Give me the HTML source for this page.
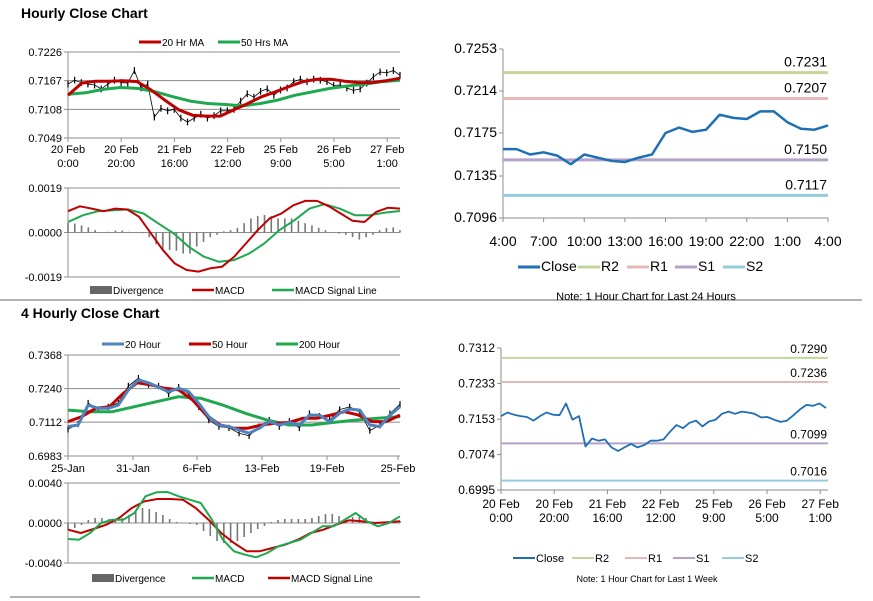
<!DOCTYPE html>
<html><head><meta charset="utf-8"><style>
html,body{margin:0;padding:0;background:#fff;}
body{width:873px;height:601px;overflow:hidden;position:relative;font-family:"Liberation Sans",Arial,sans-serif;}
svg{position:absolute;left:0;top:0;}
text{font-family:"Liberation Sans",Arial,sans-serif;fill:#000;}
</style></head><body>
<svg id="c" width="873" height="601"></svg>
<script>
// ---- Data: hourly week close (20 Feb 0:00 -> 27 Feb) ----
const weekClose=[0.7160,0.7168,0.7163,0.7160,0.7158,0.7150,0.7160,0.7168,0.7163,0.7162,0.7188,0.7152,0.7160,0.7092,0.7110,0.7105,0.7108,0.7090,0.7082,0.7090,0.7098,0.7090,0.7095,0.7105,0.7105,0.7108,0.7125,0.7140,0.7133,0.7145,0.7150,0.7137,0.7148,0.7152,0.7165,0.7170,0.7165,0.7170,0.7168,0.7165,0.7157,0.7158,0.7152,0.7147,0.7150,0.7162,0.7175,0.7185,0.7183,0.7188,0.7178];
const ma20h=[0.7137,0.7162,0.7166,0.7166,0.7167,0.7165,0.7148,0.7127,0.7107,0.7096,0.7094,0.7094,0.7107,0.7120,0.7134,0.7144,0.7155,0.7165,0.7170,0.7170,0.7166,0.7163,0.7163,0.7167,0.7172];
const ma50h=[0.7139,0.7142,0.7149,0.7153,0.7151,0.7144,0.7134,0.7125,0.7120,0.7118,0.7115,0.7120,0.7127,0.7137,0.7144,0.7151,0.7156,0.7160,0.7165,0.7168];
const macd1=[0.00091,0.00112,0.00102,0.00091,0.00102,0.00098,0.00067,-0.00004,-0.00075,-0.00132,-0.0016,-0.00167,-0.00153,-0.00146,-0.00104,-0.00047,0.0001,0.0006,0.00081,0.00116,0.00135,0.00135,0.00112,0.00081,0.0005,0.00045,0.00088,0.00106,0.00102];
const signal1=[0.00045,0.00074,0.00091,0.00095,0.00098,0.00081,0.00038,-0.00004,-0.00061,-0.00103,-0.00125,-0.00118,-0.0009,-0.00047,0.0001,0.00052,0.00102,0.00121,0.00102,0.00074,0.00074,0.00085,0.00092];
const div1=[0.0004,0.00038,0.0003,0.00022,0.0001,0.0,0.00003,0.00008,0.00008,0.00003,0.00001,-0.00003,-0.0002,-0.0005,-0.0007,-0.00075,-0.00078,-0.0009,-0.0009,-0.0006,-0.0004,-0.0002,-0.0001,0.00005,0.0001,0.0002,0.0004,0.0006,0.0007,0.00075,0.0007,0.0006,0.0006,0.0006,0.0005,0.0004,0.0003,0.0002,0.0001,0.0,-0.00005,-0.0001,-0.0002,-0.0003,-0.0002,-0.0001,0.0001,0.0002,0.00022,0.0001];
// ---- 4 hourly ----
const close4=[0.7085,0.7105,0.7185,0.7160,0.7170,0.7185,0.7250,0.7280,0.7255,0.7250,0.7220,0.7245,0.7220,0.7170,0.7120,0.7095,0.7090,0.7070,0.7060,0.7095,0.7120,0.7095,0.7115,0.7090,0.7145,0.7135,0.7120,0.7160,0.7170,0.7150,0.7080,0.7100,0.7145,0.7180];
const ma20=[0.7095,0.7101,0.7177,0.7165,0.7165,0.7177,0.7235,0.7273,0.7262,0.7245,0.7228,0.7241,0.7228,0.7184,0.7133,0.7101,0.7095,0.7082,0.7070,0.7089,0.7114,0.7101,0.7111,0.7101,0.7139,0.7139,0.7114,0.7146,0.7162,0.7158,0.7101,0.7095,0.7139,0.7171];
const ma50=[0.7114,0.7133,0.7165,0.7171,0.7222,0.7262,0.7254,0.7241,0.7235,0.7197,0.7139,0.7101,0.7089,0.7089,0.7101,0.7108,0.7111,0.7127,0.7127,0.7139,0.7152,0.7139,0.7114,0.7114,0.7139];
const ma200=[0.7158,0.7152,0.7152,0.7171,0.7190,0.7209,0.7203,0.7177,0.7146,0.7120,0.7101,0.7101,0.7111,0.7120,0.7127,0.7133];
const macd4=[-0.0016,-0.00167,-0.001,0,0.00033,0.00033,0.001,0.00267,0.00307,0.0031,0.00267,0.00233,0.002,0.00033,-0.00167,-0.00283,-0.00317,-0.00343,-0.003,-0.00233,-0.002,-0.00167,-0.001,-0.00033,-0.00033,0.00033,0.001,0.00017,-0.00033,0,0.00067];
const signal4=[-0.00067,-0.001,-0.0006,-0.00017,0.0005,0.0015,0.00217,0.0024,0.0024,0.00233,0.0015,0.00033,-0.001,-0.002,-0.00283,-0.00283,-0.0025,-0.00217,-0.00167,-0.001,-0.00067,-0.00017,0.00027,0.00017,0,0.00007,0.00017];
const div4=[-0.0007,-0.0005,-0.0002,0.0003,0.0005,0.0005,0.0004,0.0003,0.0005,0.0008,0.0012,0.0015,0.0014,0.0011,0.0008,0.0004,0.0001,0.0,-0.0001,-0.0002,-0.0008,-0.0013,-0.0018,-0.002,-0.002,-0.0018,-0.0014,-0.001,-0.0006,-0.0003,0.0001,0.0003,0.0004,0.0004,0.0004,0.0004,0.0005,0.0007,0.0009,0.0009,0.0007,0.0005,0.0006,0.0007,0.0005,0.0001,0.0,-0.0001,0.0001,0.0002];
// ---- 24h ----
const dayClose=[0.7160,0.7160,0.7155,0.7157,0.7154,0.7146,0.7155,0.7152,0.7149,0.7148,0.7152,0.7155,0.7175,0.7180,0.7176,0.7178,0.7192,0.7189,0.7188,0.7195,0.7195,0.7185,0.7179,0.7178,0.7182];
const dayLevels=[0.7231,0.7207,0.7150,0.7117];
const weekLevels=[0.7290,0.7236,0.7099,0.7016];
const levelNames=["R2","R1","S1","S2"];
const levelColors=["#c3d69b","#e6b9b8","#b3a2c7","#93cddd"];
const hourTicks=["20 Feb|0:00","20 Feb|20:00","21 Feb|16:00","22 Feb|12:00","25 Feb|9:00","26 Feb|5:00","27 Feb|1:00"];
const dayTicks=["4:00","7:00","10:00","13:00","16:00","19:00","22:00","1:00","4:00"];
const fourTicks=["25-Jan","31-Jan","6-Feb","13-Feb","19-Feb","25-Feb"];

const S=document.getElementById('c');
const NS='http://www.w3.org/2000/svg';
function mk(t,a,p){const e=document.createElementNS(NS,t);for(const k in a)e.setAttribute(k,a[k]);(p||S).appendChild(e);return e;}
function txt(x,y,s,size,anchor,w){const e=mk('text',{x:x,y:y,'font-size':size,'text-anchor':anchor||'start','font-weight':w||'normal'});e.textContent=s;return e;}
function lin(x1,y1,x2,y2,c,w){return mk('line',{x1:x1,y1:y1,x2:x2,y2:y2,stroke:c,'stroke-width':w||1});}
function sc(d0,d1,r0,r1){return v=>r0+(v-d0)/(d1-d0)*(r1-r0);}
function poly(arr,X,Y,c,w){const n=arr.length;const pts=arr.map((v,i)=>X(i/(n-1)).toFixed(1)+','+Y(v).toFixed(1)).join(' ');return mk('polyline',{points:pts,fill:'none',stroke:c,'stroke-width':w,'stroke-linejoin':'round'});}
function yAxis(ticks,Y,x0,x1,grid,size,fmt){ticks.forEach(t=>{const y=Y(t);if(grid){const g=lin(x0,y,x1,y,'#8c8c8c',1);}lin(x0-4,y,x0,y,'#8c8c8c');const l=txt(x0-6,y+4,fmt(t),size,'end');});}
function legend(items,y,size){items.forEach(it=>{const r=lin(it[0],y,it[0]+22,y,it[2],it[3]||3);const t=txt(it[0]+23,y+4,it[1],size);});}

// titles & separators
let e=txt(21,18,'Hourly Close Chart',14,'start','bold');
e=txt(21,318,'4 Hourly Close Chart',14,'start','bold');
e=lin(0,300,862,300,'#999',1.5);
e=lin(10,597,420,597,'#999',1.5);

// ---- Panel 1: hourly price ----
(function(){
 const x0=68,x1=400,X=sc(0,1,x0,x1),Y=sc(0.7049,0.7226,138,52);
 yAxis([0.7226,0.7167,0.7108,0.7049],Y,x0,x1,true,11,v=>v.toFixed(4));
 lin(x0,52,x0,138,'#8c8c8c');
 hourTicks.forEach((t,i)=>{const x=x0+i*53.2;lin(x,138,x,142,'#8c8c8c');const p=t.split('|');let a=txt(x,153,p[0],11,'middle');a=txt(x,167,p[1],11,'middle');});
 const n=weekClose.length;
 weekClose.forEach((v,i)=>{const x=X(i/(n-1));const b=lin(x,Y(v+0.0007),x,Y(v-0.0007),'#000',1.2);});
 e=poly(weekClose,X,Y,'#000',0.8);
 e=poly(ma50h,X,Y,'#1fa84f',3);
 e=poly(ma20h,X,Y,'#c00000',3);
 legend([[139,'20 Hr MA','#c00000'],[218,'50 Hrs MA','#1fa84f']],42,10);
})();
// ---- Panel 1b: MACD ----
(function(){
 const x0=68,x1=400,X=sc(0,1,x0,x1),Y=sc(-0.0019,0.0019,277,188);
 yAxis([0.0019,0.0,-0.0019],Y,x0,x1,true,11,v=>v.toFixed(4));
 lin(x0,188,x0,277,'#8c8c8c');
 const n=div1.length;
 div1.forEach((v,i)=>{const x=X(i/(n-1));const b=lin(x,Y(0),x,Y(v),'#777',1.6);});
 e=poly(signal1,X,Y,'#1fa84f',2);
 e=poly(macd1,X,Y,'#c00000',2);
 legend([[90,'Divergence','#666',8],[192,'MACD','#c00000',2.5],[272,'MACD Signal Line','#1fa84f',2.5]],290,10);
})();
// ---- Panel 2: 24h levels ----
(function(){
 const x0=503,x1=828,X=sc(0,1,x0,x1),Y=sc(0.7096,0.7253,218,49);
 yAxis([0.7253,0.7214,0.7175,0.7135,0.7096],Y,x0,x1,false,14,v=>v.toFixed(4));
 lin(x0,49,x0,218,'#8c8c8c');lin(x0,218,x1,218,'#8c8c8c');
 dayTicks.forEach((t,i)=>{const x=x0+i*(x1-x0)/8;lin(x,218,x,222,'#8c8c8c');const a=txt(x,246,t,14,'middle');});
 dayLevels.forEach((v,i)=>{const l=lin(x0,Y(v),x1,Y(v),levelColors[i],3);const t=txt(x1-1,Y(v)-6,v.toFixed(4),14,'end');});
 e=poly(dayClose,X,Y,'#1f6fb5',2.5);
 legend([[518,'Close','#1f6fb5'],[578,'R2',levelColors[0]],[627,'R1',levelColors[1]],[675,'S1',levelColors[2]],[723,'S2',levelColors[3]]],267,14);
 e=txt(646,300,'Note: 1 Hour Chart for Last 24 Hours',11,'middle');
})();
// ---- Panel 3: 4 hourly price ----
(function(){
 const x0=68,x1=400,X=sc(0,1,x0,x1),Y=sc(0.6983,0.7368,456,355);
 yAxis([0.7368,0.7240,0.7112,0.6983],Y,x0,x1,true,11,v=>v.toFixed(4));
 lin(x0,355,x0,456,'#8c8c8c');
 const tx=[68,133,197,262,327,398];
 fourTicks.forEach((t,i)=>{lin(tx[i],456,tx[i],460,'#8c8c8c');const a=txt(tx[i],472,t,11,'middle');});
 const n=close4.length;
 close4.forEach((v,i)=>{const x=X(i/(n-1));const b=lin(x,Y(v+0.0012),x,Y(v-0.0012),'#000',1.2);});
 e=poly(close4,X,Y,'#000',0.8);
 e=poly(ma200,X,Y,'#1fa84f',3);
 e=poly(ma50,X,Y,'#c00000',3);
 e=poly(ma20,X,Y,'#4f81bd',3);
 legend([[102,'20 Hour','#4f81bd'],[189,'50 Hour','#c00000'],[276,'200 Hour','#1fa84f']],344,10);
})();
// ---- Panel 3b: MACD 4h ----
(function(){
 const x0=68,x1=400,X=sc(0,1,x0,x1),Y=sc(-0.004,0.004,563,483);
 yAxis([0.004,0.0,-0.004],Y,x0,x1,true,11,v=>v.toFixed(4));
 lin(x0,483,x0,563,'#8c8c8c');
 const n=div4.length;
 div4.forEach((v,i)=>{const x=X(i/(n-1));const b=lin(x,Y(0),x,Y(v),'#777',1.6);});
 e=poly(signal4,X,Y,'#c00000',2);
 e=poly(macd4,X,Y,'#1fa84f',2);
 legend([[92,'Divergence','#666',8],[192,'MACD','#1fa84f',2.5],[268,'MACD Signal Line','#c00000',2.5]],578,10);
})();
// ---- Panel 4: week levels ----
(function(){
 const x0=501,x1=828,X=sc(0,1,x0,826),Y=sc(0.6995,0.7312,490,348);
 yAxis([0.7312,0.7233,0.7153,0.7074,0.6995],Y,x0,x1,false,12,v=>v.toFixed(4));
 lin(x0,348,x0,490,'#8c8c8c');lin(x0,490,x1,490,'#8c8c8c');
 hourTicks.forEach((t,i)=>{const x=x0+i*53.2;lin(x,490,x,494,'#8c8c8c');const p=t.split('|');let a=txt(x,508,p[0],12,'middle');a=txt(x,522,p[1],12,'middle');});
 weekLevels.forEach((v,i)=>{const l=lin(x0,Y(v),x1,Y(v),levelColors[i],2);const t=txt(x1-1,Y(v)-5,v.toFixed(4),12,'end');});
 e=poly(weekClose,X,Y,'#1f6fb5',1.8);
 legend([[513,'Close','#1f6fb5',2],[572,'R2',levelColors[0],2],[625,'R1',levelColors[1],2],[673,'S1',levelColors[2],2],[722,'S2',levelColors[3],2]],558,11);
 e=txt(647,582,'Note: 1 Hour Chart for Last 1 Week',9,'middle');
})();
</script>
</body></html>
